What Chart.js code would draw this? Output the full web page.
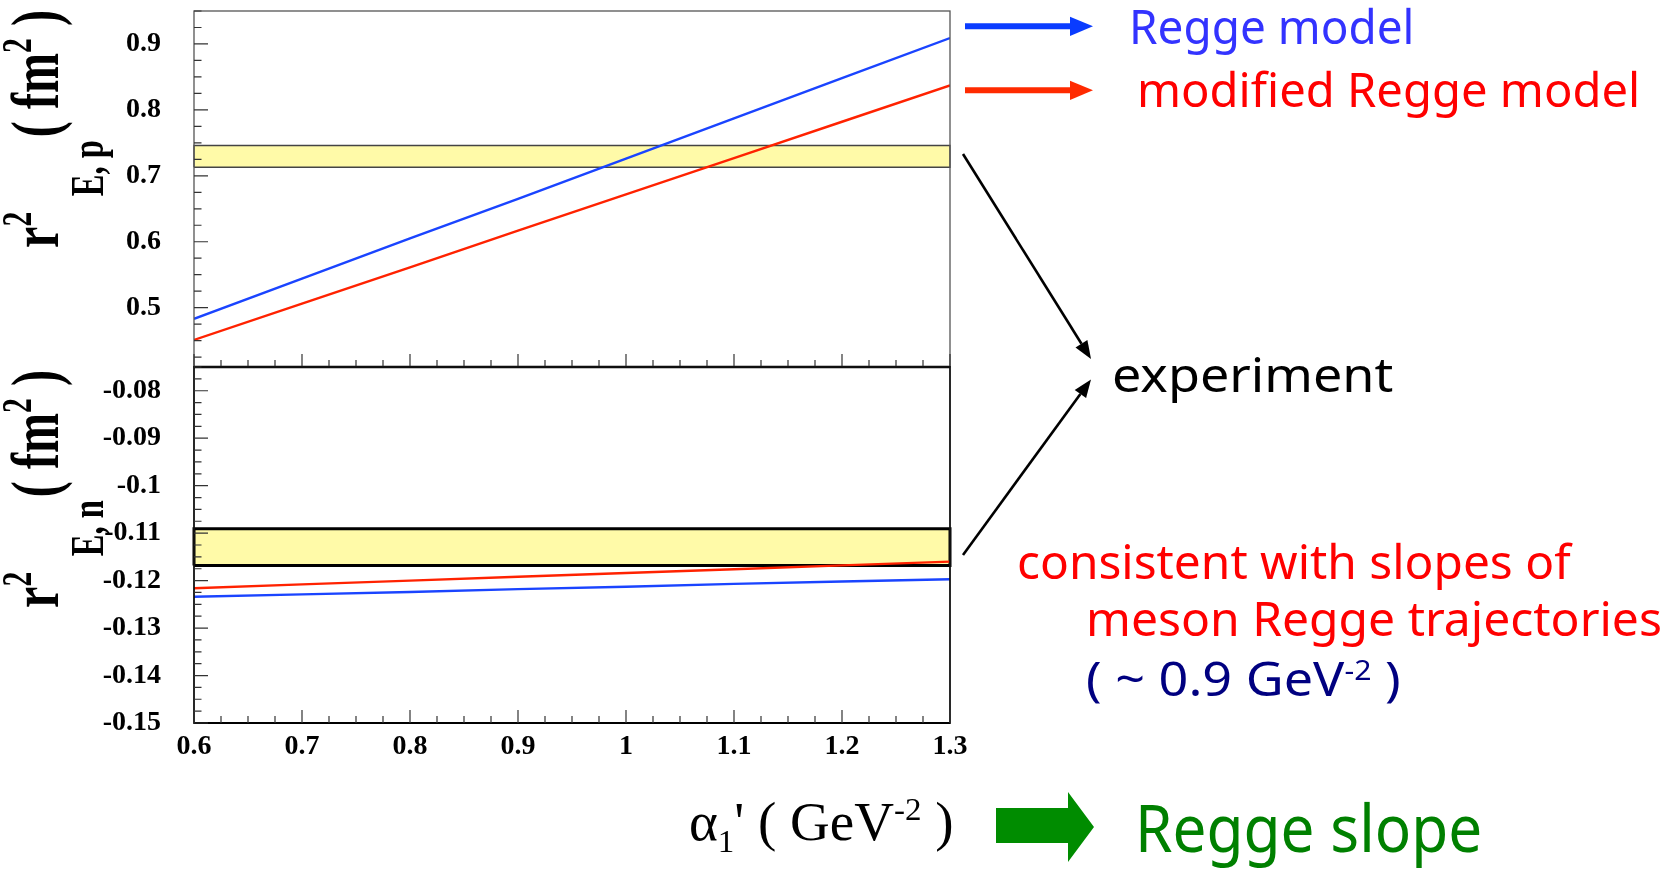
<!DOCTYPE html>
<html>
<head>
<meta charset="utf-8">
<script src="https://cdn.jsdelivr.net/npm/chart.js@4/dist/chart.umd.min.js"></script>
<style>
  body { margin: 0; background: #fff; }
  #page { position: relative; width: 1667px; height: 869px; overflow: hidden; background: #fff; }
  .cv { position: absolute; left: 0; }
  .t { position: absolute; white-space: nowrap; line-height: 1; transform-origin: 0 0;
       font-family: "Noto Sans", sans-serif; }
  .serif { font-family: "Liberation Serif", serif; }
  .yt { font-weight: bold; font-size: 68px; }
  .sup, .sub { position: relative; line-height: 0; }
  .yt .sup { font-size: 42px; top: -27px; }
  .yt .sub { font-size: 46px; top: 45px; margin-left: 22px; margin-right: 4px; }
  .xt .sup { font-size: 0.6em; top: -0.62em; }
  .xt .sub { font-size: 0.6em; top: 0.36em; }
  .ann .sup { font-size: 0.58em; top: -0.6em; }
</style>
</head>
<body>
<div id="page">
  <canvas id="protonChart" class="cv" width="980" height="480" style="top:-60px"></canvas>
  <canvas id="neutronChart" class="cv" width="980" height="480" style="top:300px"></canvas>

  <svg width="1667" height="869" style="position:absolute;left:0;top:0">
    <line x1="965" y1="26.3" x2="1072" y2="26.3" stroke="#0a3cff" stroke-width="6"/>
    <polygon points="1070,16.7 1093,26.3 1070,35.9" fill="#0a3cff"/>
    <line x1="965" y1="90.3" x2="1072" y2="90.3" stroke="#ff2a00" stroke-width="6"/>
    <polygon points="1070,80.7 1093,90.3 1070,99.9" fill="#ff2a00"/>
    <line x1="963" y1="154" x2="1081.5" y2="343.7" stroke="#000" stroke-width="2.6"/>
    <polygon points="1075.5,347.4 1087.4,340 1091,359" fill="#000"/>
    <line x1="963" y1="555" x2="1080.4" y2="394" stroke="#000" stroke-width="2.6"/>
    <polygon points="1086.1,398.1 1074.7,389.9 1091,379.5" fill="#000"/>
    <polygon points="996,808 1068,808 1068,792 1094,827 1068,862 1068,843 996,843" fill="#008c00"/>
  </svg>

  <div class="t serif yt" data-w="238" data-rot="1" style="left:1px;top:248px">r<span class="sup">2</span><span class="sub">E, p</span>( fm<span class="sup">2</span> )</div>
  <div class="t serif yt" data-w="238" data-rot="1" style="left:1px;top:608px">r<span class="sup">2</span><span class="sub">E, n</span>( fm<span class="sup">2</span> )</div>
  <div class="t serif xt" data-w="265" style="left:689px;top:795px;font-size:54px">α<span class="sub">1</span>' ( GeV<span class="sup">-2</span> )</div>

  <div class="t ann" data-w="285" style="left:1129px;top:2.4px;font-size:48px;color:#3333ff">Regge model</div>
  <div class="t ann" data-w="503" style="left:1137px;top:65.4px;font-size:48px;color:#ff0000">modified Regge model</div>
  <div class="t ann" data-w="281" style="left:1112px;top:350.4px;font-size:48px;color:#000">experiment</div>
  <div class="t ann" data-w="554" style="left:1017px;top:537.4px;font-size:48px;color:#ff0000">consistent with slopes of</div>
  <div class="t ann" data-w="576" style="left:1086px;top:594.4px;font-size:48px;color:#ff0000">meson Regge trajectories</div>
  <div class="t ann" data-w="315" style="left:1086px;top:654.4px;font-size:48px;color:#000080">( ~ 0.9 GeV<span class="sup">-2</span> )</div>
  <div class="t ann" data-w="347" style="left:1135px;top:793.4px;font-size:66px;color:#008000">Regge slope</div>
</div>

<script>
// alpha_1' values (GeV^-2) and the charge radii computed at each of them
const slopes = [0.6, 0.7, 0.8, 0.9, 1.0, 1.1, 1.2, 1.3];
const protonRegge = [0.483, 0.544, 0.605, 0.665, 0.726, 0.787, 0.848, 0.909];
const protonModified = [0.451, 0.506, 0.561, 0.617, 0.672, 0.727, 0.782, 0.837];
const neutronRegge = [-0.1234, -0.1229, -0.1224, -0.1218, -0.1213, -0.1207, -0.1202, -0.1197];
const neutronModified = [-0.1216, -0.1208, -0.1200, -0.1192, -0.1184, -0.1176, -0.1168, -0.1160];

// experimental bands [low, high]
const protonExp = [0.713, 0.746];
const neutronExp = [-0.1168, -0.1091];

const slopeTicks = [0.6, 0.7, 0.8, 0.9, 1.0, 1.1, 1.2, 1.3];
const protonTicks = [0.5, 0.6, 0.7, 0.8, 0.9];
const neutronTicks = [-0.15, -0.14, -0.13, -0.12, -0.11, -0.1, -0.09, -0.08];

const BLUE = '#1a44ff';
const RED = '#ff2200';
const YELLOW = '#fffaa8';
const tickFont = { family: 'Liberation Serif', size: 28, weight: 'bold' };
const fmt = v => String(Number(v.toFixed(3)));

function series(ys, color) {
  return {
    data: slopes.map((x, i) => ({ x, y: ys[i] })),
    borderColor: color, borderWidth: 2.4, fill: false
  };
}

function band([lo, hi], edge, width) {
  const a = slopes[0], b = slopes[slopes.length - 1];
  return {
    data: [{ x: a, y: lo }, { x: b, y: lo }, { x: b, y: hi }, { x: a, y: hi }, { x: a, y: lo }],
    borderColor: edge, borderWidth: width, backgroundColor: YELLOW, fill: 'shape', clip: 4
  };
}

function marks(min, max, step, major, draw) {
  const first = Math.ceil(min / step - 1e-6);
  const last = Math.floor(max / step + 1e-6);
  for (let i = first; i <= last; i++) {
    const v = i * step;
    const r = v / major;
    draw(v, Math.abs(r - Math.round(r)) < 1e-6);
  }
}

// box around the plot plus inward tick marks on the left and bottom edges
const frameTicks = {
  id: 'frameTicks',
  afterDatasetsDraw(chart, args, o) {
    const { ctx, chartArea: a, scales: { x, y } } = chart;
    ctx.save();
    ctx.strokeStyle = o.frame;
    ctx.lineWidth = o.frameWidth;
    ctx.strokeRect(a.left, a.top, a.width, a.height);
    ctx.lineWidth = o.bottomWidth;
    ctx.strokeStyle = '#000';
    ctx.beginPath();
    ctx.moveTo(a.left, a.bottom);
    ctx.lineTo(a.right, a.bottom);
    ctx.stroke();

    ctx.strokeStyle = '#333';
    ctx.lineWidth = 1.2;
    ctx.beginPath();
    marks(x.min, x.max, 0.025, 0.1, (v, big) => {
      const p = x.getPixelForValue(v);
      ctx.moveTo(p, a.bottom);
      ctx.lineTo(p, a.bottom - (big ? 13 : 7));
    });
    marks(y.min, y.max, o.yMinor, o.yMajor, (v, big) => {
      const p = y.getPixelForValue(v);
      ctx.moveTo(a.left, p);
      ctx.lineTo(a.left + (big ? 14 : 7.5), p);
    });
    ctx.stroke();
    ctx.restore();
  }
};

function panel(id, cfg) {
  return new Chart(document.getElementById(id), {
    type: 'line',
    data: {
      datasets: [
        series(cfg.regge, BLUE),
        series(cfg.modified, RED),
        band(cfg.band, cfg.bandEdge, cfg.bandWidth)
      ]
    },
    options: {
      responsive: false,
      animation: false,
      events: [],
      layout: { padding: cfg.padding },
      elements: { point: { radius: 0 }, line: { tension: 0 } },
      plugins: {
        legend: { display: false },
        tooltip: { enabled: false },
        frameTicks: cfg.frame
      },
      scales: {
        x: {
          type: 'linear',
          min: 0.6,
          max: 1.3,
          display: cfg.showX,
          afterBuildTicks: s => { s.ticks = slopeTicks.map(value => ({ value })); },
          afterFit: s => { if (cfg.showX) s.height = 45; },
          grid: { display: false, drawTicks: false },
          border: { display: false },
          ticks: { font: tickFont, color: '#000', padding: 7, maxRotation: 0, autoSkip: false, callback: fmt }
        },
        y: {
          type: 'linear',
          min: cfg.min,
          max: cfg.max,
          afterBuildTicks: s => { s.ticks = cfg.ticks.map(value => ({ value })); },
          afterFit: s => { s.width = 194; },
          grid: { display: false, drawTicks: false },
          border: { display: false },
          ticks: { font: tickFont, color: '#000', padding: 33, callback: fmt }
        }
      }
    },
    plugins: [frameTicks]
  });
}

panel('protonChart', {
  regge: protonRegge, modified: protonModified, band: protonExp,
  bandEdge: '#444', bandWidth: 1.3,
  min: 0.41, max: 0.95, ticks: protonTicks, showX: false,
  padding: { top: 71, bottom: 53, left: 0, right: 30 },
  frame: { frame: '#555', frameWidth: 1.3, bottomWidth: 2.5, yMinor: 0.025, yMajor: 0.1 }
});

panel('neutronChart', {
  regge: neutronRegge, modified: neutronModified, band: neutronExp,
  bandEdge: '#000', bandWidth: 3,
  min: -0.15, max: -0.075, ticks: neutronTicks, showX: true,
  padding: { top: 67, bottom: 12, left: 0, right: 30 },
  frame: { frame: '#111', frameWidth: 1.8, bottomWidth: 2, yMinor: 0.0025, yMajor: 0.01 }
});

// squeeze each text block to its width; axis titles are turned upright
document.querySelectorAll('.t').forEach(el => {
  const k = Number(el.dataset.w) / el.offsetWidth;
  el.style.transform = (el.dataset.rot ? 'rotate(-90deg) ' : '') + 'scaleX(' + k.toFixed(4) + ')';
});
</script>
</body>
</html>
